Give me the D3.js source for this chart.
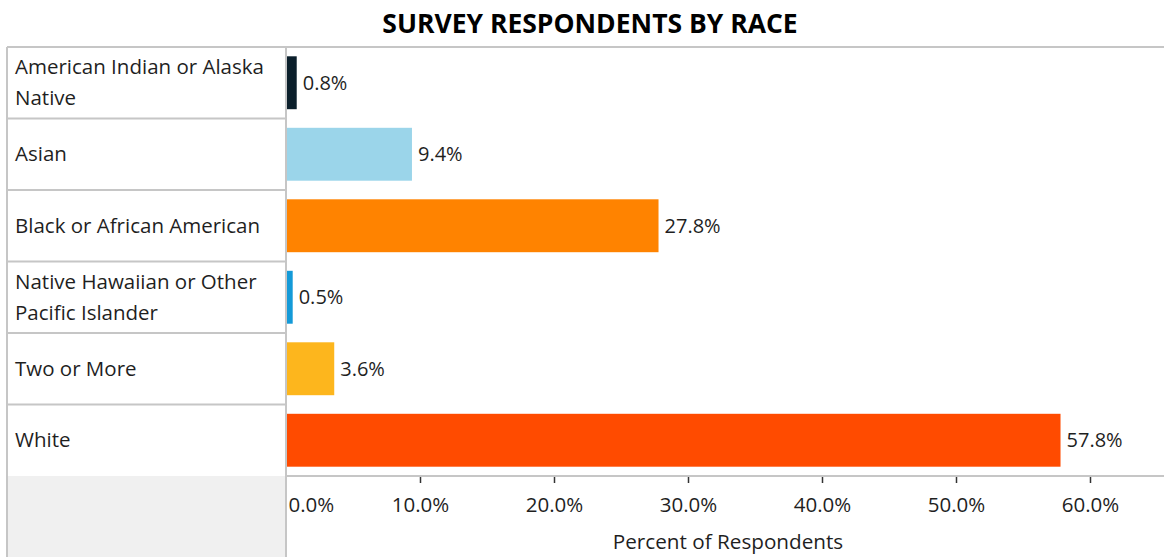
<!DOCTYPE html>
<html>
<head>
<meta charset="utf-8">
<script src="https://cdn.jsdelivr.net/npm/d3@7"></script>
<style>
  html, body { margin: 0; padding: 0; background: #fff; }
  svg { display: block; }
  text { font-family: "Open Sans", "Noto Sans", sans-serif; fill: #1f1f1f; }
</style>
</head>
<body>
<svg id="chart" width="1164" height="557"></svg>
<script>
// Race categories, each split into the lines shown in the row header
const categories = [
  ["American Indian or Alaska", "Native"],
  ["Asian"],
  ["Black or African American"],
  ["Native Hawaiian or Other", "Pacific Islander"],
  ["Two or More"],
  ["White"]
];
// Share of respondents, percent
const values = [0.8, 9.4, 27.8, 0.5, 3.6, 57.8];
const barColors = ["#0b1f2b", "#9bd5ea", "#ff8300", "#149ad8", "#fdb61d", "#ff4b00"];
const tickValues = [0, 10, 20, 30, 40, 50, 60];

const W = 1164, H = 557;
const gridLeft = 7, splitX = 286, gridTop = 47, axisY = 476;
const lineColor = "#c6c6c6";

const svg = d3.select("#chart");

const keys = categories.map(c => c.join(" "));
const y = d3.scaleBand().domain(keys).range([gridTop, axisY]).paddingInner(0.26).paddingOuter(0.13);
const rows = d3.scaleBand().domain(keys).range([gridTop, axisY]);
const x = d3.scaleLinear().domain([0, 60]).range([splitX, 1090]);

// Title
svg.append("text")
  .attr("x", 590).attr("y", 33)
  .attr("text-anchor", "middle")
  .style("font-size", "26.5px").style("font-weight", "700").style("fill", "#000")
  .text("SURVEY RESPONDENTS BY RACE");

// Grey block under the row headers
svg.append("rect")
  .attr("x", gridLeft).attr("y", axisY).attr("width", splitX - gridLeft).attr("height", H - axisY)
  .attr("fill", "#f0f0f0");

// Row header grid
const grid = svg.append("g").attr("stroke", lineColor).attr("stroke-width", 2).attr("fill", "none");
grid.append("line").attr("x1", gridLeft).attr("x2", W).attr("y1", gridTop).attr("y2", gridTop);
grid.append("line").attr("x1", gridLeft).attr("x2", gridLeft).attr("y1", gridTop).attr("y2", H);
grid.append("line").attr("x1", splitX).attr("x2", splitX).attr("y1", gridTop).attr("y2", H);
grid.selectAll("line.row").data(keys.slice(1)).join("line").attr("class", "row")
  .attr("x1", gridLeft).attr("x2", splitX)
  .attr("y1", d => rows(d)).attr("y2", d => rows(d));

// Row header labels
svg.append("g").selectAll("text").data(categories).join("text")
  .style("font-size", "20.5px")
  .each(function(lines, i) {
    const cy = rows(keys[i]) + rows.bandwidth() / 2;
    const lh = 31;
    const y0 = cy - (lines.length - 1) * lh / 2;
    d3.select(this).selectAll("tspan").data(lines).join("tspan")
      .attr("x", 15)
      .attr("y", (d, j) => y0 + j * lh)
      .attr("dy", "0.35em")
      .text(d => d);
  });

// Bars
svg.append("g").selectAll("rect").data(values).join("rect")
  .attr("x", x(0) + 1)
  .attr("y", (d, i) => y(keys[i]))
  .attr("width", d => x(d) - x(0) - 1)
  .attr("height", y.bandwidth())
  .attr("fill", (d, i) => barColors[i]);

// Value labels
svg.append("g").selectAll("text").data(values).join("text")
  .attr("x", d => x(d) + 6)
  .attr("y", (d, i) => y(keys[i]) + y.bandwidth() / 2)
  .attr("dy", "0.35em")
  .style("font-size", "20px")
  .text(d => d3.format(".1f")(d) + "%");

// X axis
const axis = svg.append("g").attr("transform", `translate(0,${axisY})`)
  .call(d3.axisBottom(x).tickValues(tickValues).tickSize(7).tickPadding(14)
    .tickFormat(d => d3.format(".1f")(d) + "%"));
axis.select(".domain").remove();
axis.append("line").attr("x1", splitX).attr("x2", W).attr("y1", 0).attr("y2", 0)
  .attr("stroke", lineColor).attr("stroke-width", 2);
axis.selectAll(".tick line").attr("stroke", "#333").attr("stroke-width", 1.5);
axis.selectAll(".tick text").style("font-size", "20.5px").style("fill", "#1f1f1f")
  .style("font-family", '"Open Sans", "Noto Sans", sans-serif');
axis.selectAll(".tick").filter(d => d === 0).select("line").remove();
axis.selectAll(".tick").filter(d => d === 0).select("text")
  .attr("text-anchor", "start").attr("x", 2);

svg.append("text")
  .attr("x", 728).attr("y", 549)
  .attr("text-anchor", "middle")
  .style("font-size", "20.7px")
  .text("Percent of Respondents");
</script>
</body>
</html>
